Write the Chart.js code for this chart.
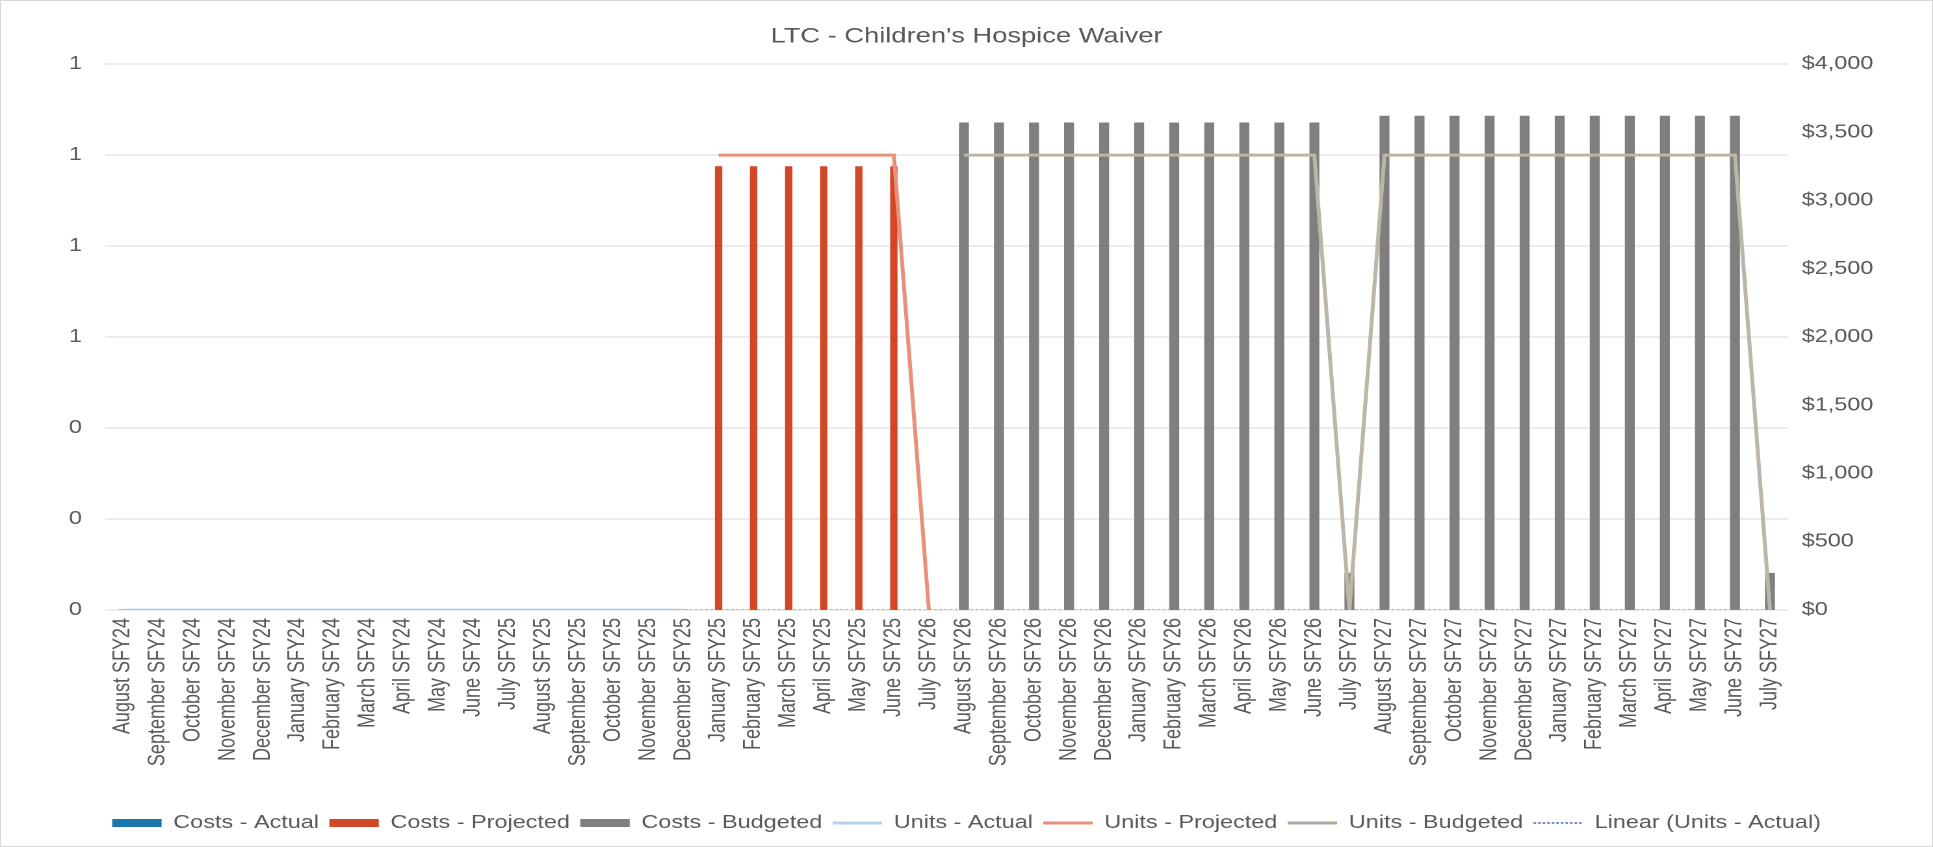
<!DOCTYPE html>
<html>
<head>
<meta charset="utf-8">
<title>LTC - Children's Hospice Waiver</title>
<script src="https://cdn.jsdelivr.net/npm/chart.js@4.4.1/dist/chart.umd.min.js"></script>
<style>
  html, body { margin: 0; padding: 0; background: #fff; overflow: hidden; }
  /* the reference is stretched sideways, so draw narrower and widen with CSS */
  #wrap { position: absolute; left: 0; top: 0; width: 1487px; height: 847px;
          transform: scaleX(1.3); transform-origin: 0 0; }
  #frame { position: absolute; left: 0; top: 0; width: 1933px; height: 847px;
           box-sizing: border-box; border: 1px solid #d9d9d9; pointer-events: none; }
</style>
</head>
<body>
<div id="wrap"><canvas id="chart"></canvas></div>
<div id="frame"></div>
<script>
const months = [
  'August SFY24', 'September SFY24', 'October SFY24', 'November SFY24', 'December SFY24',
  'January SFY24', 'February SFY24', 'March SFY24', 'April SFY24', 'May SFY24', 'June SFY24',
  'July SFY25', 'August SFY25', 'September SFY25', 'October SFY25', 'November SFY25', 'December SFY25',
  'January SFY25', 'February SFY25', 'March SFY25', 'April SFY25', 'May SFY25', 'June SFY25',
  'July SFY26', 'August SFY26', 'September SFY26', 'October SFY26', 'November SFY26', 'December SFY26',
  'January SFY26', 'February SFY26', 'March SFY26', 'April SFY26', 'May SFY26', 'June SFY26',
  'July SFY27', 'August SFY27', 'September SFY27', 'October SFY27', 'November SFY27', 'December SFY27',
  'January SFY27', 'February SFY27', 'March SFY27', 'April SFY27', 'May SFY27', 'June SFY27',
  'July SFY27'
];

const costsActual = [
  0, 0, 0, 0, 0, 0, 0, 0, 0, 0, 0, 0, 0, 0, 0, 0, 0,
  null, null, null, null, null, null, null, null, null, null, null, null, null, null, null,
  null, null, null, null, null, null, null, null, null, null, null, null, null, null, null, null
];
const costsProjected = [
  null, null, null, null, null, null, null, null, null, null, null, null, null, null, null, null, null,
  3250, 3250, 3250, 3250, 3250, 3250,
  null, null, null, null, null, null, null, null, null, null, null, null,
  null, null, null, null, null, null, null, null, null, null, null, null, null
];
const costsBudgeted = [
  null, null, null, null, null, null, null, null, null, null, null, null,
  null, null, null, null, null, null, null, null, null, null, null, null,
  3570, 3570, 3570, 3570, 3570, 3570, 3570, 3570, 3570, 3570, 3570, 270,
  3620, 3620, 3620, 3620, 3620, 3620, 3620, 3620, 3620, 3620, 3620, 270
];
const unitsActual = [
  0, 0, 0, 0, 0, 0, 0, 0, 0, 0, 0, 0, 0, 0, 0, 0, 0,
  null, null, null, null, null, null, null, null, null, null, null, null, null, null, null,
  null, null, null, null, null, null, null, null, null, null, null, null, null, null, null, null
];
const unitsProjected = [
  null, null, null, null, null, null, null, null, null, null, null, null, null, null, null, null, null,
  1, 1, 1, 1, 1, 1, 0,
  null, null, null, null, null, null, null, null, null, null, null, null,
  null, null, null, null, null, null, null, null, null, null, null, null
];
const unitsBudgeted = [
  null, null, null, null, null, null, null, null, null, null, null, null,
  null, null, null, null, null, null, null, null, null, null, null, null,
  1, 1, 1, 1, 1, 1, 1, 1, 1, 1, 1, 0,
  1, 1, 1, 1, 1, 1, 1, 1, 1, 1, 1, 0
];
const trendUnitsActual = [
  0, 0, 0, 0, 0, 0, 0, 0, 0, 0, 0, 0, 0, 0, 0, 0, 0, 0, 0, 0, 0, 0, 0, 0,
  0, 0, 0, 0, 0, 0, 0, 0, 0, 0, 0, 0, 0, 0, 0, 0, 0, 0, 0, 0, 0, 0, 0, 0
];

const unitTicks = [0, 0.2, 0.4, 0.6, 0.8, 1.0, 1.2];
const costTicks = [0, 500, 1000, 1500, 2000, 2500, 3000, 3500, 4000];

const FONT = '"Liberation Sans", Arial, sans-serif';
const TEXT = '#595959';
const GRID = '#d9d9d9';

const legendStyle = [
  { style: 'rect', fill: '#1a76ad' },
  { style: 'rect', fill: '#d24726' },
  { style: 'rect', fill: '#7f7f7f' },
  { style: 'line', stroke: '#b4d2ee', width: 3 },
  { style: 'line', stroke: '#e8917a', width: 3 },
  { style: 'line', stroke: '#a9ac9b', width: 3 },
  { style: 'line', stroke: '#3f6fb0', width: 1.5, dash: [2, 1.5] }
];

function lineSet(label, data, color, width, dash) {
  return {
    type: 'line', label, data, yAxisID: 'y', order: 1,
    borderColor: color, backgroundColor: color, borderWidth: width,
    borderDash: dash || [], pointRadius: 0, tension: 0, spanGaps: false
  };
}
function barSet(label, data, color, thick) {
  return {
    type: 'bar', label, data, yAxisID: 'y1', order: 2, grouped: false,
    backgroundColor: color, borderWidth: 0, barThickness: thick
  };
}

new Chart(document.getElementById('chart'), {
  data: {
    labels: months,
    datasets: [
      barSet('Costs - Actual', costsActual, '#1a76ad', 6),
      barSet('Costs - Projected', costsProjected, '#d24726', 5),
      barSet('Costs - Budgeted', costsBudgeted, '#7f7f7f', 7),
      lineSet('Units - Actual', unitsActual, '#a9cbe8', 2.5),
      lineSet('Units - Projected', unitsProjected, '#e8917a', 3),
      lineSet('Units - Budgeted', unitsBudgeted, '#bcb6a6', 3),
      lineSet('Linear (Units - Actual)', trendUnitsActual, '#6b8fbd', 1.2, [2, 2])
    ]
  },
  options: {
    responsive: true,
    maintainAspectRatio: false,
    devicePixelRatio: 2,
    animation: false,
    layout: { padding: { top: 0, left: 0, right: 0, bottom: 5 } },
    plugins: {
      title: {
        display: true,
        text: "LTC - Children's Hospice Waiver",
        color: TEXT,
        font: { family: FONT, size: 21, weight: 'normal' },
        padding: { top: 24, bottom: 15 }
      },
      legend: {
        position: 'bottom',
        labels: {
          color: TEXT,
          font: { family: FONT, size: 18 },
          usePointStyle: true,
          pointStyleWidth: 38,
          boxWidth: 38,
          boxHeight: 8,
          padding: 8,
          generateLabels: (chart) => chart.data.datasets.map((ds, i) => {
            const s = legendStyle[i];
            return {
              text: ds.label,
              datasetIndex: i,
              pointStyle: s.style,
              fillStyle: s.fill || s.stroke,
              strokeStyle: s.stroke || s.fill,
              lineWidth: s.style === 'line' ? s.width : 0,
              lineDash: s.dash || [],
              fontColor: TEXT,
              hidden: !chart.isDatasetVisible(i)
            };
          })
        }
      },
      tooltip: { enabled: false }
    },
    scales: {
      x: {
        offset: true,
        grid: { display: false, drawTicks: false },
        border: { display: false },
        ticks: {
          color: TEXT, font: { family: FONT, size: 18 },
          autoSkip: false, minRotation: 90, maxRotation: 90, padding: 8
        },
        afterFit: (s) => { s.height = 196; }
      },
      y: {
        position: 'left',
        min: 0, max: 1.2,
        grid: { color: GRID, drawTicks: false },
        border: { display: false },
        afterBuildTicks: (s) => { s.ticks = unitTicks.map(v => ({ value: v })); },
        ticks: {
          color: TEXT, font: { family: FONT, size: 18 }, padding: 18,
          callback: (v) => Math.round(v).toString()
        },
        afterFit: (s) => { s.width = 81; }
      },
      y1: {
        position: 'right',
        min: 0, max: 4000,
        grid: { display: false, drawTicks: false },
        border: { display: false },
        afterBuildTicks: (s) => { s.ticks = costTicks.map(v => ({ value: v })); },
        ticks: {
          color: TEXT, font: { family: FONT, size: 18 }, padding: 11,
          callback: (v) => '$' + v.toLocaleString('en-US')
        },
        afterFit: (s) => { s.width = 112; }
      }
    }
  }
});
</script>
</body>
</html>
